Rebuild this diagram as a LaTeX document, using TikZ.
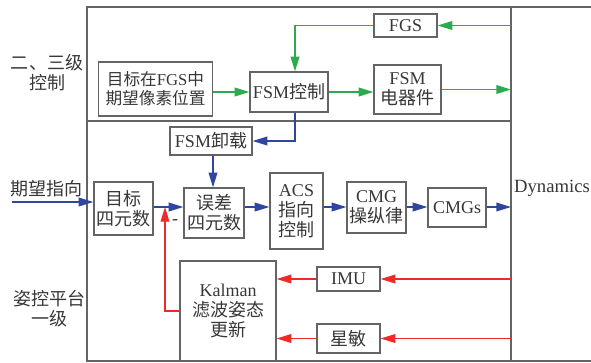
\documentclass[tikz,border=0pt]{standalone}
\usepackage{fontspec}
\setmainfont{Liberation Serif}
\newfontfamily\cjk{Noto Sans CJK SC}
\newcommand{\zh}[1]{{\cjk #1}}
\usepackage{tikz}
\usetikzlibrary{calc,arrows.meta,positioning}
\definecolor{sigGreen}{RGB}{46,170,78}
\definecolor{sigBlue}{RGB}{46,70,158}
\definecolor{sigRed}{RGB}{238,42,42}
\definecolor{boxGray}{RGB}{100,100,100}
\definecolor{txtGray}{RGB}{55,55,55}
\tikzset{
  blk/.style={draw=boxGray, line width=0.9pt, inner sep=0pt, align=center,
    text=txtGray, font=\fontsize{13.5}{15}\selectfont},
  lbl/.style={inner sep=0pt, align=center, text=txtGray,
    font=\fontsize{13.5}{15}\selectfont},
  frameLn/.style={boxGray, line width=1.3pt},
  arr/.style={-{Triangle[length=11pt,width=6.5pt]}, line width=1pt},
  grnArr/.style={arr, sigGreen},
  bluArr/.style={arr, sigBlue},
  redArr/.style={arr, sigRed}
}

\begin{document}
\begin{tikzpicture}[x=0.75pt, y=-0.75pt]
\useasboundingbox (0,0) rectangle (591,362);
% frame
\draw[frameLn] (591,7) -- (87,7) -- (87,361) -- (591,361);
\draw[frameLn] (511,7) -- (511,361);
\draw[frameLn] (87,121) -- (511,121);
\coordinate (dynL) at (511,0);
\coordinate (vLine) at (295,0);
\coordinate (rowA) at (0,207);
\coordinate (cmdIn) at (12,202);
\coordinate (fbTip) at (165,207);
% level labels
\node[lbl] (lvl23) at (47,73) {\zh{二、三级}\\\zh{控制}};
\node[lbl] (cmdLbl) at (46,189) {\zh{期望指向}};
\node[lbl] (lvl1) at (49,309) {\zh{姿控平台}\\\zh{一级}};
\node[lbl, font=\fontsize{14}{16}\selectfont] (dynLbl) at (552,188) {Dynamics};
% upper loop
\node[blk, minimum width=86pt, minimum height=40.5pt, font=\fontsize{12.5}{14}\selectfont] (tgtPix) at (155.5,89) {\zh{目标在}FGS\zh{中}\\\zh{期望像素位置}};
\node[blk, minimum width=58.5pt, minimum height=30pt] (fsmCtrl) at (289,92) {FSM\zh{控制}};
\node[blk, minimum width=47.25pt, minimum height=17.25pt] (fgs) at (405.5,25.5) {FGS};
\node[blk, minimum width=50.25pt, minimum height=36.75pt] (fsmDev) at (407.5,89.5) {FSM\\\zh{电器件}};
% lower loop
\node[blk, minimum width=61.5pt, minimum height=21pt] (fsmUnld) at (211,141) {FSM\zh{卸载}};
\node[blk, minimum width=44.25pt, minimum height=39.75pt] (tgtQ) at (123.5,208.5) {\zh{目标}\\\zh{四元数}};
\node[blk, minimum width=45pt, minimum height=37.5pt] (errQ) at (214,213) {\zh{误差}\\\zh{四元数}};
\node[blk, minimum width=39.75pt, minimum height=57pt] (acs) at (296.5,211) {ACS\\\zh{指向}\\\zh{控制}};
\node[blk, minimum width=44.25pt, minimum height=38.25pt] (cmgLaw) at (376.5,207.5) {CMG\\\zh{操纵律}};
\node[blk, minimum width=43.5pt, minimum height=29.25pt] (cmgs) at (457,207.5) {CMGs};
\node[blk, minimum width=72pt, minimum height=75pt] (kalman) at (228,311) {Kalman\\\zh{滤波姿态}\\\zh{更新}};
\node[blk, minimum width=47.25pt, minimum height=18pt] (imu) at (348.5,279) {IMU};
\node[blk, minimum width=47.25pt, minimum height=21.75pt] (star) at (348.5,338.5) {\zh{星敏}};
\node[lbl] (minusLbl) at (175,222) {-};
% green signals
\draw[grnArr] (fgs.east -| dynL) -- (fgs.east);
\draw[grnArr] (fgs.west) -| (fsmCtrl.north -| vLine);
\draw[grnArr] (tgtPix.east |- fsmCtrl.west) -- (fsmCtrl.west);
\draw[grnArr] (fsmCtrl.east) -- (fsmCtrl.east -| fsmDev.west);
\draw[grnArr] (fsmDev.east) -- (fsmDev.east -| dynL);
% blue signals
\draw[bluArr] (fsmCtrl.south -| vLine) |- (fsmUnld.east);
\draw[bluArr] (cmdIn) -- (tgtQ.west |- cmdIn);
\draw[bluArr] (fsmUnld.south -| 213,0) -- (errQ.north -| 213,0);
\draw[bluArr] (tgtQ.east |- rowA) -- (errQ.west |- rowA);
\draw[bluArr] (errQ.east |- rowA) -- (acs.west |- rowA);
\draw[bluArr] (acs.east |- rowA) -- (cmgLaw.west |- rowA);
\draw[bluArr] (cmgLaw.east |- rowA) -- (cmgs.west |- rowA);
\draw[bluArr] (cmgs.east |- rowA) -- (dynL |- rowA);
% red signals
\draw[redArr] (imu.east -| dynL) -- (imu.east);
\draw[redArr] (imu.west) -- (imu.west -| kalman.east);
\draw[redArr] (star.east -| dynL) -- (star.east);
\draw[redArr] (star.west) -- (star.west -| kalman.east);
\draw[redArr] (kalman.west) -| (fbTip);
\end{tikzpicture}
\end{document}
